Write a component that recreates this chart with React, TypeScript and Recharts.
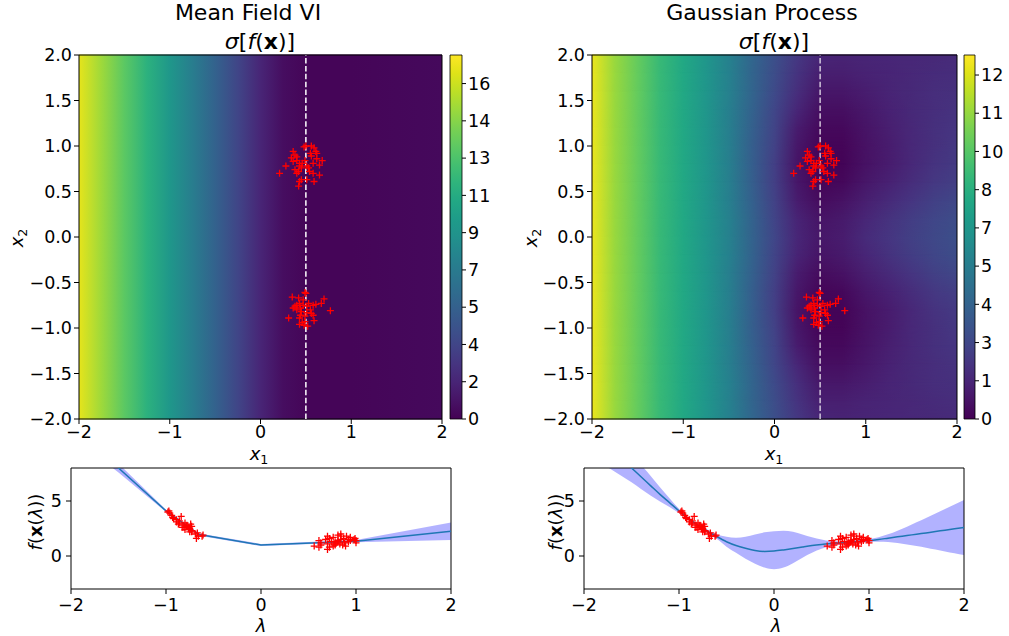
import React from 'react';
import {
  ScatterChart, Scatter, ComposedChart, Area, Line, XAxis, YAxis, ReferenceArea, ReferenceLine,
} from 'recharts';

const FONT = '"DejaVu Sans", sans-serif';

// heatmap grid: x1 positions of the colour stops
const x1Stops = [-2, -1.75, -1.5, -1.25, -1, -0.75, -0.5, -0.25, 0, 0.25, 0.5, 0.75, 1, 1.25, 1.5, 1.75, 2];

// mean field VI: sigma along x1 (nearly constant in x2)
const mfviRowsX2 = [0];
const mfviSigma = [
  [16.9, 15.0, 13.1, 11.2, 9.3, 7.4, 5.5, 3.6, 1.8, 0.6, 0.2, 0.2, 0.2, 0.25, 0.3, 0.35, 0.4],
];

// gaussian process: one row of sigma per x2 value (bottom to top)
const gpRowsX2 = [-2.0, -1.8, -1.6, -1.4, -1.2, -1.0, -0.8, -0.6, -0.4, -0.2, 0.0, 0.2, 0.4, 0.6, 0.8, 1.0, 1.2, 1.4, 1.6, 1.8, 2.0];
const gpSigma = [
  [12.6, 11.0, 9.9, 8.7, 7.8, 6.8, 5.7, 4.3, 3.1, 2.1, 1.4, 1.3, 1.35, 1.4, 1.45, 1.5, 1.6],
  [12.6, 11.0, 9.9, 8.7, 7.8, 6.8, 5.7, 4.2, 3.0, 1.9, 1.1, 1.1, 1.25, 1.35, 1.45, 1.6, 1.7],
  [12.6, 11.0, 9.9, 8.7, 7.8, 6.8, 5.7, 4.2, 2.9, 1.7, 0.8, 0.8, 1.05, 1.3, 1.5, 1.7, 1.8],
  [12.6, 11.0, 9.9, 8.7, 7.8, 6.8, 5.6, 4.1, 2.7, 1.4, 0.5, 0.5, 0.85, 1.2, 1.5, 1.7, 1.9],
  [12.6, 11.0, 9.9, 8.7, 7.8, 6.8, 5.6, 4.0, 2.6, 1.0, 0.3, 0.3, 0.7, 1.1, 1.45, 1.8, 2.0],
  [12.6, 11.0, 9.9, 8.7, 7.8, 6.8, 5.6, 3.9, 2.5, 0.8, 0.15, 0.15, 0.6, 1.0, 1.45, 1.8, 2.1],
  [12.6, 11.0, 9.9, 8.7, 7.8, 6.8, 5.6, 3.9, 2.4, 0.7, 0.1, 0.1, 0.6, 1.0, 1.45, 1.9, 2.2],
  [12.6, 11.0, 9.9, 8.7, 7.8, 6.8, 5.6, 3.9, 2.4, 0.8, 0.15, 0.25, 0.8, 1.2, 1.65, 2.1, 2.4],
  [12.6, 11.0, 9.9, 8.7, 7.8, 6.8, 5.6, 4.0, 2.5, 1.0, 0.4, 0.6, 1.1, 1.55, 2.0, 2.45, 2.75],
  [12.6, 11.0, 9.9, 8.7, 7.8, 6.8, 5.7, 4.1, 2.6, 1.3, 0.7, 0.9, 1.4, 1.85, 2.3, 2.7, 3.0],
  [12.6, 11.0, 9.9, 8.7, 7.8, 6.8, 5.7, 4.1, 2.7, 1.4, 0.8, 1.0, 1.6, 2.0, 2.45, 2.8, 3.1],
  [12.6, 11.0, 9.9, 8.7, 7.8, 6.8, 5.7, 4.1, 2.6, 1.3, 0.7, 0.9, 1.4, 1.85, 2.3, 2.7, 3.0],
  [12.6, 11.0, 9.9, 8.7, 7.8, 6.8, 5.6, 4.0, 2.5, 1.0, 0.4, 0.6, 1.1, 1.55, 2.0, 2.45, 2.75],
  [12.6, 11.0, 9.9, 8.7, 7.8, 6.8, 5.6, 3.9, 2.4, 0.8, 0.15, 0.25, 0.8, 1.2, 1.65, 2.1, 2.4],
  [12.6, 11.0, 9.9, 8.7, 7.8, 6.8, 5.6, 3.9, 2.4, 0.7, 0.1, 0.1, 0.6, 1.0, 1.45, 1.9, 2.2],
  [12.6, 11.0, 9.9, 8.7, 7.8, 6.8, 5.6, 3.9, 2.5, 0.8, 0.15, 0.15, 0.6, 1.0, 1.45, 1.8, 2.1],
  [12.6, 11.0, 9.9, 8.7, 7.8, 6.8, 5.6, 4.0, 2.6, 1.0, 0.3, 0.3, 0.7, 1.1, 1.45, 1.8, 2.0],
  [12.6, 11.0, 9.9, 8.7, 7.8, 6.8, 5.6, 4.1, 2.7, 1.4, 0.5, 0.5, 0.85, 1.2, 1.5, 1.7, 1.9],
  [12.6, 11.0, 9.9, 8.7, 7.8, 6.8, 5.7, 4.2, 2.9, 1.7, 0.8, 0.8, 1.05, 1.3, 1.5, 1.7, 1.8],
  [12.6, 11.0, 9.9, 8.7, 7.8, 6.8, 5.7, 4.2, 3.0, 1.9, 1.1, 1.1, 1.25, 1.35, 1.45, 1.6, 1.7],
  [12.6, 11.0, 9.9, 8.7, 7.8, 6.8, 5.7, 4.3, 3.1, 2.1, 1.4, 1.3, 1.35, 1.4, 1.45, 1.5, 1.6],
];

// colorbars
const mfviMax = 17.58;
const mfviCbarTicks = [0, 1.8, 3.6, 5.4, 7.2, 9.0, 10.8, 12.6, 14.4, 16.2];
const gpMax = 13.0;
const gpCbarTicks = [0, 1.365, 2.73, 4.095, 5.46, 6.825, 8.19, 9.555, 10.92, 12.285];

// observed points [x1, x2, f]
const clusterTop = [
  [0.50, 1.00, 1.4], [0.48, 0.99, 1.6], [0.56, 1.00, 1.2], [0.59, 0.98, 1.5], [0.61, 0.94, 1.7],
  [0.62, 0.92, 1.3], [0.55, 0.92, 1.5], [0.36, 0.94, 1.4], [0.38, 0.90, 1.8], [0.34, 0.87, 1.6],
  [0.40, 0.88, 1.2], [0.40, 0.84, 2.0], [0.43, 0.81, 1.9], [0.43, 0.78, 1.0], [0.51, 0.78, 1.1],
  [0.53, 0.76, 0.9], [0.45, 0.76, 1.7], [0.38, 0.74, 1.3], [0.42, 0.72, 1.6], [0.54, 0.72, 0.8],
  [0.58, 0.81, 1.4], [0.65, 0.79, 1.2], [0.68, 0.84, 1.8], [0.62, 0.86, 1.0], [0.56, 0.89, 0.9],
  [0.58, 0.70, 1.8], [0.65, 0.68, 1.5], [0.40, 0.70, 1.1], [0.45, 0.63, 1.0], [0.43, 0.61, 1.4],
  [0.42, 0.56, 0.9], [0.51, 0.63, 1.2], [0.59, 0.61, 0.8], [0.28, 0.78, 1.3], [0.21, 0.70, 0.6],
  [0.49, 0.84, 1.5], [0.46, 0.81, 1.3], [0.36, 0.83, 1.1],
];
const clusterBottom = [
  [0.49, -0.61, 1.9], [0.35, -0.66, 1.8], [0.42, -0.67, 2.1], [0.43, -0.73, 2.3], [0.38, -0.76, 2.6],
  [0.40, -0.80, 2.4], [0.44, -0.78, 2.8], [0.47, -0.75, 2.2], [0.51, -0.76, 2.5], [0.53, -0.73, 2.7],
  [0.58, -0.75, 2.4], [0.61, -0.74, 2.9], [0.67, -0.73, 2.2], [0.70, -0.68, 1.6], [0.77, -0.81, 2.6],
  [0.56, -0.84, 3.6], [0.58, -0.86, 3.0], [0.44, -0.86, 3.2], [0.43, -0.89, 3.3], [0.49, -0.87, 2.9],
  [0.31, -0.89, 3.1], [0.43, -0.96, 3.9], [0.46, -0.94, 3.7], [0.49, -0.93, 3.5], [0.59, -0.92, 3.4],
  [0.45, -0.82, 2.8], [0.40, -0.75, 2.5], [0.36, -0.78, 2.7], [0.55, -0.80, 3.0], [0.47, -0.69, 2.0],
  [0.50, -0.62, 1.8], [0.51, -0.83, 2.6], [0.48, -0.97, 4.1], [0.52, -0.98, 4.0],
];

// bottom panels: function along the dashed line
const mfviLam = [-2, -1.5, -1, -0.65, 0, 1, 2];
const mfviMean = [12.1, 8.0, 4.1, 1.95, 1.0, 1.35, 2.25];
const mfviLower = [10.9, 7.6, 4.0, 1.85, 0.9, 1.25, 1.45];
const mfviUpper = [13.3, 8.4, 4.2, 2.05, 1.1, 1.45, 3.05];

const gpLam = [-2.0, -1.9, -1.8, -1.7, -1.6, -1.5, -1.4, -1.3, -1.2, -1.1, -1.0, -0.9, -0.8, -0.7, -0.6, -0.5, -0.4, -0.3, -0.2, -0.1,
  0.0, 0.1, 0.2, 0.3, 0.4, 0.5, 0.6, 0.7, 0.8, 0.9, 1.0, 1.1, 1.2, 1.3, 1.4, 1.5, 1.6, 1.7, 1.8, 1.9, 2.0];
const gpMean = [11.5, 10.8, 10.1, 9.4, 8.7, 8.0, 7.2, 6.4, 5.6, 4.85, 4.1, 3.4, 2.8, 2.25, 1.75, 1.3, 0.95, 0.7, 0.5, 0.42,
  0.45, 0.55, 0.68, 0.82, 0.95, 1.05, 1.13, 1.2, 1.26, 1.33, 1.4, 1.5, 1.62, 1.74, 1.86, 1.98, 2.1, 2.22, 2.35, 2.47, 2.6];
const gpLower = [9.3, 8.8, 8.3, 7.8, 7.25, 6.7, 6.1, 5.5, 4.95, 4.45, 3.9, 3.28, 2.68, 2.1, 1.55, 0.85, 0.3, -0.25, -0.7, -1.05,
  -1.2, -1.05, -0.65, -0.15, 0.3, 0.65, 0.92, 1.05, 1.13, 1.2, 1.27, 1.3, 1.27, 1.18, 1.05, 0.9, 0.75, 0.58, 0.42, 0.25, 0.08];
const gpUpper = [13.7, 12.8, 11.9, 11.0, 10.15, 9.3, 8.3, 7.3, 6.25, 5.25, 4.3, 3.52, 2.92, 2.4, 1.95, 1.75, 1.65, 1.75, 1.95, 2.15,
  2.25, 2.3, 2.2, 1.95, 1.7, 1.5, 1.36, 1.33, 1.37, 1.45, 1.53, 1.7, 1.97, 2.3, 2.67, 3.06, 3.45, 3.86, 4.28, 4.69, 5.1];

const VIRIDIS = [
  '#440154', '#471365', '#482475', '#463480', '#414487', '#3b528b', '#355f8d', '#2f6c8e', '#2a788e', '#25848e', '#21918c',
  '#1e9c89', '#22a884', '#2fb47c', '#44bf70', '#5ec962', '#7ad151', '#9bd93c', '#bddf26', '#dfe318', '#fde725',
];

function hexRgb(h: string) {
  return [parseInt(h.slice(1, 3), 16), parseInt(h.slice(3, 5), 16), parseInt(h.slice(5, 7), 16)];
}

function viridis(t: number) {
  const c = Math.max(0, Math.min(1, t)) * (VIRIDIS.length - 1);
  const i = Math.min(Math.floor(c), VIRIDIS.length - 2);
  const f = c - i;
  const a = hexRgb(VIRIDIS[i]);
  const b = hexRgb(VIRIDIS[i + 1]);
  const m = a.map((v, k) => Math.round(v + (b[k] - v) * f));
  return `rgb(${m[0]},${m[1]},${m[2]})`;
}

const minus = (v: number, digits = 0) => {
  const s = Math.abs(v).toFixed(digits);
  return v < -1e-9 ? '\u2212' + s : s;
};

const tickStyle = { fill: '#000', fontSize: 17.5, fontFamily: FONT };

const Plus = (props: any) => {
  const { cx, cy } = props;
  if (cx == null || cy == null) return null;
  const r = 3.5;
  return <path d={`M${cx - r},${cy}H${cx + r}M${cx},${cy - r}V${cy + r}`} stroke="#ff0000" strokeWidth={1.3} fill="none" />;
};

// solid strip, slightly overdrawn so neighbouring strips leave no seam
const HeatRect = (p: any) => (
  <rect x={p.x} y={p.y - 0.5} width={p.width} height={p.height + 1} fill={p.fill} stroke="none" />
);

type HeatProps = {
  id: string; rowsX2: number[]; grid: number[][]; vmax: number; left: number; width: number;
  marginLeft: number; marginRight: number; dash: string;
};

function Heatmap({ id, rowsX2, grid, vmax, left, width, marginLeft, marginRight, dash }: HeatProps) {
  const single = rowsX2.length === 1;
  const spans = single ? [[-2, 2]] : rowsX2.slice(0, -1).map((c, i) => [c, rowsX2[i + 1]]);
  // fades the upper row in over each strip so rows blend vertically
  const RampRect = (p: any) => (
    <rect x={p.x} y={p.y - 0.5} width={p.width} height={p.height + 1} fill={p.fill} stroke="none" mask={`url(#${id}-ramp)`} />
  );
  return (
    <div style={{ position: 'absolute', left, top: 0 }}>
      <ScatterChart width={width} height={470} margin={{ top: 55, right: marginRight, bottom: 21, left: marginLeft }}>
        <defs>
          {grid.map((row, i) => (
            <linearGradient key={i} id={`${id}-row-${i}`} x1="0" y1="0" x2="1" y2="0">
              {x1Stops.map((x, j) => (
                <stop key={j} offset={(x + 2) / 4} stopColor={viridis(row[j] / vmax)} />
              ))}
            </linearGradient>
          ))}
          <linearGradient id={`${id}-rampgrad`} x1="0" y1="0" x2="0" y2="1">
            <stop offset={0} stopColor="#fff" />
            <stop offset={1} stopColor="#000" />
          </linearGradient>
          <mask id={`${id}-ramp`} maskContentUnits="objectBoundingBox">
            <rect x={0} y={0} width={1} height={1} fill={`url(#${id}-rampgrad)`} />
          </mask>
        </defs>
        <XAxis type="number" dataKey="x1" domain={[-2, 2]} ticks={[-2, -1, 0, 1, 2]} allowDataOverflow
          tickFormatter={(v) => minus(v)} axisLine={false} tick={tickStyle} tickLine={{ stroke: '#000' }}
          tickSize={5} tickMargin={2} height={30} />
        <YAxis type="number" dataKey="x2" domain={[-2, 2]} ticks={[-2, -1.5, -1, -0.5, 0, 0.5, 1, 1.5, 2]} allowDataOverflow
          tickFormatter={(v) => minus(v, 1)} axisLine={false} tick={tickStyle} tickLine={{ stroke: '#000' }}
          tickSize={5} tickMargin={2} width={60} />
        {spans.map(([lo, hi], i) => (
          <ReferenceArea key={`b${i}`} x1={-2} x2={2} y1={lo} y2={hi} fill={`url(#${id}-row-${i})`}
            fillOpacity={1} stroke="none" shape={HeatRect} />
        ))}
        {!single && spans.map(([lo, hi], i) => (
          <ReferenceArea key={`r${i}`} x1={-2} x2={2} y1={lo} y2={hi} fill={`url(#${id}-row-${i + 1})`}
            fillOpacity={1} stroke="none" shape={RampRect} />
        ))}
        <Scatter data={heatPoints} shape={Plus} isAnimationActive={false} />
        <ReferenceLine x={0.5} stroke={dash} strokeDasharray="5.5 2.4" strokeWidth={1.5} />
        <ReferenceArea x1={-2} x2={2} y1={-2} y2={2} fill="none" fillOpacity={0} stroke="#000" strokeWidth={1} />
      </ScatterChart>
    </div>
  );
}

const heatPoints = [...clusterTop, ...clusterBottom].map(([x1, x2]) => ({ x1, x2 }));
const curvePoints = [...clusterTop, ...clusterBottom].map(([, x2, f]) => ({ lam: x2, f }));

const mfviCurve = mfviLam.map((lam, i) => ({ lam, mean: mfviMean[i], band: [mfviLower[i], mfviUpper[i]] }));
const gpCurve = gpLam.map((lam, i) => ({ lam, mean: gpMean[i], band: [gpLower[i], gpUpper[i]] }));

type CbarProps = { id: string; left: number; width: number; marginRight: number; axisWidth: number; vmax: number; ticks: number[] };

function Colorbar({ id, left, width, marginRight, axisWidth, vmax, ticks }: CbarProps) {
  return (
    <div style={{ position: 'absolute', left, top: 0 }}>
      <ComposedChart width={width} height={470} data={[{ x: 0 }, { x: 1 }]}
        margin={{ top: 55, right: marginRight, bottom: 51, left: 10 }}>
        <defs>
          <linearGradient id={id} x1="0" y1="1" x2="0" y2="0">
            {VIRIDIS.map((c, i) => <stop key={i} offset={i / (VIRIDIS.length - 1)} stopColor={c} />)}
          </linearGradient>
        </defs>
        <XAxis type="number" dataKey="x" domain={[0, 1]} hide />
        <YAxis orientation="right" type="number" domain={[0, vmax]} ticks={ticks} allowDataOverflow
          tickFormatter={(v) => String(Math.round(v))} axisLine={false} tick={{ ...tickStyle, textAnchor: 'start' }}
          tickLine={{ stroke: '#000' }} tickSize={4} tickMargin={2} width={axisWidth} />
        <ReferenceArea x1={0} x2={1} y1={0} y2={vmax} fill={`url(#${id})`} fillOpacity={1} stroke="#000" strokeWidth={0.8} />
      </ComposedChart>
    </div>
  );
}

type CurveProps = { left: number; width: number; marginLeft: number; marginRight: number; data: any[]; curve: 'linear' | 'monotone' };

function CurvePanel({ left, width, marginLeft, marginRight, data, curve }: CurveProps) {
  return (
    <div style={{ position: 'absolute', left, top: 440 }}>
      <ComposedChart width={width} height={196} data={data} margin={{ top: 28, right: marginRight, bottom: 17, left: marginLeft }}>
        <XAxis type="number" dataKey="lam" domain={[-2, 2]} ticks={[-2, -1, 0, 1, 2]} allowDataOverflow
          tickFormatter={(v) => minus(v)} axisLine={false} tick={tickStyle} tickLine={{ stroke: '#000' }}
          tickSize={5} tickMargin={5} height={30} />
        <YAxis type="number" domain={[-3, 8]} ticks={[0, 5]} allowDataOverflow
          tickFormatter={(v) => minus(v)} axisLine={false} tick={tickStyle} tickLine={{ stroke: '#000' }}
          tickSize={5} tickMargin={4} width={50} />
        <Area dataKey="band" type={curve} fill="#0000ff" fillOpacity={0.3} stroke="none" isAnimationActive={false} />
        <Line dataKey="mean" type={curve} stroke="#1f77b4" strokeWidth={1.5} dot={false} isAnimationActive={false} />
        <Scatter data={curvePoints} dataKey="f" shape={Plus} isAnimationActive={false} />
        <ReferenceArea x1={-2} x2={2} y1={-3} y2={8} fill="none" fillOpacity={0} stroke="#000" strokeWidth={1} />
      </ComposedChart>
    </div>
  );
}

const Sigma = ({ x, y }: { x: number; y: number }) => (
  <text x={x} y={y} textAnchor="middle" fontSize={22}>
    <tspan fontStyle="italic">σ</tspan>[<tspan fontStyle="italic">f</tspan>(<tspan fontWeight="bold">x</tspan>)]
  </text>
);

const Sub = ({ x, y, n, rotate }: { x: number; y: number; n: string; rotate?: boolean }) => (
  <text x={x} y={y} textAnchor="middle" fontSize={18} transform={rotate ? `rotate(-90, ${x}, ${y})` : undefined}>
    <tspan fontStyle="italic">x</tspan><tspan fontSize={12.6} dy={4}>{n}</tspan>
  </text>
);

const FLabel = ({ x, y }: { x: number; y: number }) => (
  <text x={x} y={y} textAnchor="middle" fontSize={18} transform={`rotate(-90, ${x}, ${y})`}>
    <tspan fontStyle="italic">f</tspan>(<tspan fontWeight="bold">x</tspan>(<tspan fontStyle="italic">λ</tspan>))
  </text>
);

export default function App() {
  return (
    <div style={{ position: 'absolute', left: 0, top: 0, width: 1009, height: 636, background: '#fff', overflow: 'hidden' }}>
      <Heatmap id="mfvi" rowsX2={mfviRowsX2} grid={mfviSigma} vmax={mfviMax} left={0} width={460}
        marginLeft={19} marginRight={18} dash="#ffffff" />
      <Colorbar id="cb-mfvi" left={440} width={70} marginRight={8} axisWidth={40} vmax={mfviMax} ticks={mfviCbarTicks} />
      <Heatmap id="gp" rowsX2={gpRowsX2} grid={gpSigma} vmax={gpMax} left={520} width={450}
        marginLeft={12} marginRight={13} dash="rgba(255,255,255,0.75)" />
      <Colorbar id="cb-gp" left={954} width={55} marginRight={4} axisWidth={30} vmax={gpMax} ticks={gpCbarTicks} />
      <CurvePanel left={0} width={470} marginLeft={21} marginRight={19} data={mfviCurve} curve="linear" />
      <CurvePanel left={510} width={480} marginLeft={24} marginRight={26} data={gpCurve} curve="monotone" />
      <svg width={1009} height={636} style={{ position: 'absolute', left: 0, top: 0, pointerEvents: 'none' }}
        fontFamily={FONT} fill="#000">
        <text x={248} y={20} textAnchor="middle" fontSize={22}>Mean Field VI</text>
        <text x={762} y={20} textAnchor="middle" fontSize={22}>Gaussian Process</text>
        <Sigma x={260} y={49} />
        <Sigma x={774} y={49} />
        <Sub x={259} y={460} n="1" />
        <Sub x={774} y={460} n="1" />
        <Sub x={23} y={238} n="2" rotate />
        <Sub x={537} y={238} n="2" rotate />
        <FLabel x={42} y={522} />
        <FLabel x={562} y={522} />
        <text x={261} y={632} textAnchor="middle" fontSize={18} fontStyle="italic">λ</text>
        <text x={776} y={632} textAnchor="middle" fontSize={18} fontStyle="italic">λ</text>
      </svg>
    </div>
  );
}
